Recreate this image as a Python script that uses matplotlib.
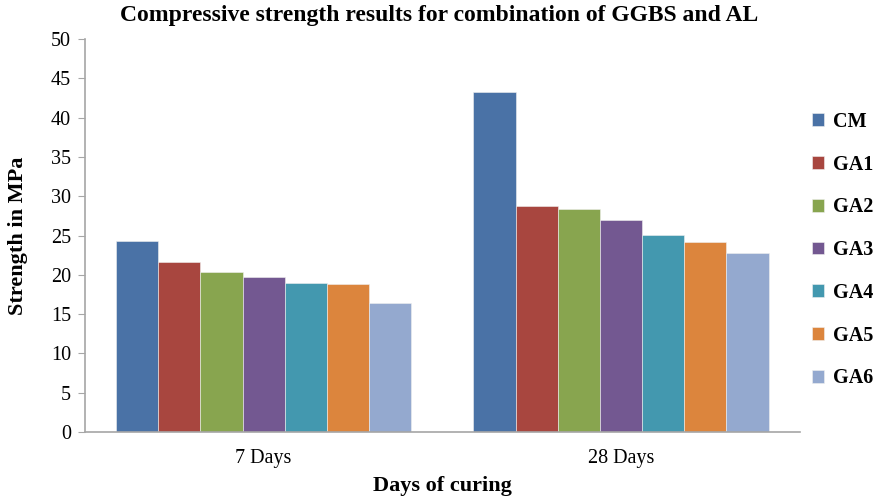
import numpy as np
import matplotlib
matplotlib.use("Agg")
import matplotlib.pyplot as plt

plt.rcParams['font.family'] = ['Liberation Serif', 'DejaVu Serif']

curing = ["7 Days", "28 Days"]
mixes = ["CM", "GA1", "GA2", "GA3", "GA4", "GA5", "GA6"]
strength = {
    "CM":  [24.3, 43.2],
    "GA1": [21.6, 28.7],
    "GA2": [20.3, 28.4],
    "GA3": [19.7, 27.0],
    "GA4": [19.0, 25.1],
    "GA5": [18.8, 24.2],
    "GA6": [16.4, 22.8],
}
colors = ["#4A72A6", "#A8463F", "#88A54F", "#735891", "#4398AF", "#DC853D", "#94A9CF"]


def main() -> None:
    fig = plt.figure(figsize=(8.78, 4.99), dpi=100)
    ax = fig.add_axes([0.0968, 0.134, 0.814, 0.788])

    x = np.arange(len(curing))
    width = 0.118
    offsets = (np.arange(len(mixes)) - (len(mixes) - 1) / 2) * width

    for i, mix in enumerate(mixes):
        ax.bar(x + offsets[i], strength[mix], width, color=colors[i],
               edgecolor="#f0f0f0", linewidth=0.4, label=mix, zorder=2)

    ax.set_xlim(-0.5, 1.5)
    ax.set_ylim(0, 50)
    ax.set_yticks(range(0, 51, 5))
    ax.set_xticks(x)
    ax.set_xticklabels(curing)

    for side in ("top", "right"):
        ax.spines[side].set_visible(False)
    for side in ("left", "bottom"):
        ax.spines[side].set_color("#a6a6a6")
        ax.spines[side].set_linewidth(1.2)

    ax.tick_params(axis="y", labelsize=14.5, length=5, color="#a6a6a6", pad=5)
    ax.tick_params(axis="x", labelsize=14.5, length=0, pad=12)

    fig.text(0.5, 1 - 15 / 499,
             "Compressive strength results for combination of GGBS and AL",
             fontsize=17, fontweight="bold", ha="center", va="center")
    ax.set_ylabel("Strength in MPa", fontsize=16, fontweight="bold")
    ax.yaxis.set_label_coords(-0.094, 0.5)
    ax.set_xlabel("Days of curing", fontsize=16, fontweight="bold")
    ax.xaxis.set_label_coords(0.5, -0.138)
    ax.xaxis.label.set_va("center")
    ax.yaxis.label.set_va("center")

    fig.legend(loc="upper left", bbox_to_anchor=(0.916, 0.792), frameon=False,
               prop={"weight": "bold", "size": 14.5}, handlelength=0.6,
               handleheight=0.6, labelspacing=1.13, handletextpad=0.45,
               borderaxespad=0)

    fig.savefig("out.png", dpi=100)


if __name__ == "__main__":
    main()
